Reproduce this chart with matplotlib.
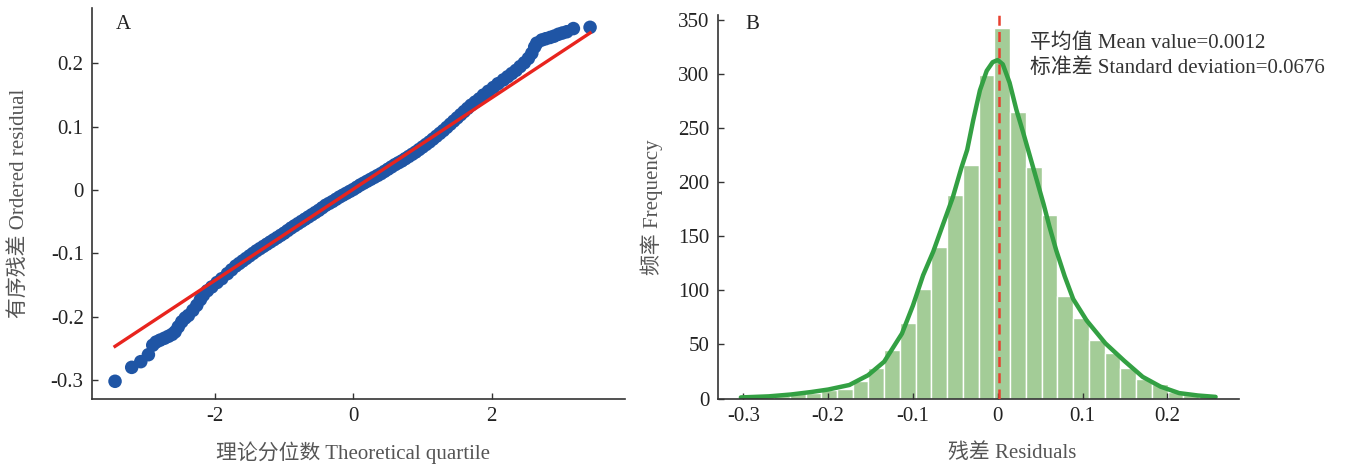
import numpy as np
import matplotlib
matplotlib.use("Agg")
import matplotlib.pyplot as plt
from matplotlib.ticker import FuncFormatter

plt.rcParams['font.family'] = ['Liberation Serif', 'Noto Sans CJK SC']
plt.rcParams['axes.unicode_minus'] = False

# Q-Q 图数据: 理论分位数 / 有序残差
qq_theoretical = [
    -3.444, -3.203, -3.072, -2.962, -2.899, -2.850, -2.793, -2.730, -2.673, -2.620,
    -2.577, -2.530, -2.480, -2.430, -2.384, -2.320, -2.263, -2.210, -2.168, -2.110,
    -2.046, -1.970, -1.902, -1.820, -1.760,
    -1.70, -1.65, -1.60, -1.55, -1.50, -1.45, -1.40, -1.35, -1.30, -1.25,
    -1.20, -1.15, -1.10, -1.05, -1.00, -0.95, -0.90, -0.85, -0.80, -0.75,
    -0.70, -0.65, -0.60, -0.55, -0.50, -0.45, -0.40, -0.35, -0.30, -0.25,
    -0.20, -0.15, -0.10, -0.05, 0.00, 0.05, 0.10, 0.15, 0.20, 0.25,
    0.30, 0.35, 0.40, 0.45, 0.50, 0.55, 0.60, 0.65, 0.70, 0.75,
    0.80, 0.85, 0.90, 0.95, 1.00, 1.05, 1.10, 1.15, 1.20, 1.25,
    1.30, 1.35, 1.40, 1.45, 1.50, 1.55, 1.60, 1.65, 1.70,
    1.760, 1.820, 1.879, 1.950, 2.023, 2.090, 2.168, 2.230, 2.289, 2.350,
    2.409, 2.470, 2.529, 2.578, 2.620, 2.650, 2.723, 2.780, 2.843, 2.900,
    2.962, 3.020, 3.084, 3.179, 3.420,
]
qq_ordered = [
    -0.302, -0.280, -0.271, -0.260, -0.245, -0.240, -0.237, -0.234, -0.231, -0.228,
    -0.224, -0.216, -0.208, -0.202, -0.198, -0.190, -0.182, -0.173, -0.166, -0.159,
    -0.153, -0.146, -0.140, -0.132, -0.126,
    -0.120, -0.116, -0.112, -0.108, -0.104, -0.100, -0.096, -0.0925, -0.089, -0.0855,
    -0.082, -0.0785, -0.075, -0.0715, -0.068, -0.064, -0.060, -0.0565, -0.053, -0.0495,
    -0.046, -0.0425, -0.039, -0.0355, -0.032, -0.028, -0.024, -0.021, -0.018, -0.0145,
    -0.011, -0.008, -0.005, -0.002, 0.001, 0.0045, 0.008, 0.011, 0.014, 0.017,
    0.020, 0.023, 0.026, 0.0295, 0.033, 0.0365, 0.040, 0.043, 0.046, 0.0495,
    0.053, 0.0565, 0.060, 0.064, 0.068, 0.072, 0.076, 0.0805, 0.085, 0.0895,
    0.094, 0.099, 0.104, 0.109, 0.114, 0.119, 0.124, 0.129, 0.134,
    0.139, 0.144, 0.150, 0.156, 0.162, 0.168, 0.174, 0.179, 0.184, 0.189,
    0.195, 0.201, 0.208, 0.216, 0.226, 0.232, 0.237, 0.239, 0.241, 0.243,
    0.246, 0.248, 0.250, 0.255, 0.257,
]
# 拟合直线端点
fit_x = [-3.444, 3.420]
fit_y = [-0.2468, 0.2481]

# 残差直方图 (30 个分箱)
hist_start = -0.301
bin_width = 0.01857
hist_counts = [1, 1, 2, 5, 5, 8, 9, 16, 28, 45,
               70, 101, 140, 188, 216, 299, 343, 265, 214, 170,
               95, 74, 54, 42, 28, 18, 13, 6, 3, 2]

# 核密度曲线 (按频数缩放)
kde_x = [-0.303, -0.270, -0.244, -0.220, -0.200, -0.175, -0.153, -0.134, -0.113, -0.100,
         -0.088, -0.076, -0.065, -0.053, -0.043, -0.036, -0.029, -0.021, -0.013, -0.006,
         0.000, 0.006, 0.014, 0.022, 0.030, 0.038, 0.046, 0.054, 0.061, 0.069,
         0.079, 0.089, 0.105, 0.127, 0.149, 0.171, 0.192, 0.214, 0.236, 0.257]
kde_y = [1, 2, 3.7, 6, 8.3, 12.5, 21.5, 34, 60, 86,
         114, 136, 160, 186, 213, 230, 257, 285, 303, 311,
         313, 309, 292, 267, 246, 224, 202, 180, 159, 137,
         113, 92, 72, 51, 35, 20, 11, 5, 2.8, 1.5]

mean_value = 0.0012
std_value = 0.0676

fmt = FuncFormatter(lambda v, pos: '%g' % round(v, 4))


def style_axes(ax):
    for side in ['top', 'right']:
        ax.spines[side].set_visible(False)
    for side in ['left', 'bottom']:
        ax.spines[side].set_linewidth(1.2)
        ax.spines[side].set_color('#333333')
    ax.tick_params(direction='in', length=4, width=1, color='#333333',
                   labelsize=15, labelcolor='#222222', pad=6)


def draw_qq(ax):
    ax.scatter(qq_theoretical, qq_ordered, s=95, c='#1f55a5', edgecolors='none', zorder=2)
    ax.plot(fit_x, fit_y, color='#e8241e', lw=2.4, zorder=3)
    ax.set_xlim(-3.776, 3.926)
    ax.set_ylim(-0.330, 0.2875)
    ax.set_xticks([-2, 0, 2])
    ax.set_yticks([-0.3, -0.2, -0.1, 0, 0.1, 0.2])
    ax.xaxis.set_major_formatter(fmt)
    ax.yaxis.set_major_formatter(fmt)
    style_axes(ax)
    ax.set_xlabel('理论分位数 Theoretical quartile', fontsize=15, color='#555555')
    ax.set_ylabel('有序残差 Ordered residual', fontsize=15, color='#555555')
    ax.xaxis.set_label_coords(0.49, -0.108)
    ax.yaxis.set_label_coords(-0.118, 0.5)
    ax.text(0.045, 0.957, 'A', transform=ax.transAxes, fontsize=15,
            color='#222222', va='center', ha='left')


def draw_hist(ax):
    edges = hist_start + bin_width * np.arange(len(hist_counts))
    ax.bar(edges, hist_counts, width=bin_width, align='edge',
           color='#a3cc97', edgecolor='white', linewidth=1.0, zorder=1)
    ax.plot(kde_x, kde_y, color='#33a043', lw=3.2, solid_capstyle='round',
            solid_joinstyle='round', zorder=2)
    ax.axvline(mean_value, color='#e8402f', lw=1.8, dashes=(4, 2.5), zorder=3)
    ax.set_xlim(-0.330, 0.2845)
    ax.set_ylim(0, 354.6)
    ax.set_xticks([-0.3, -0.2, -0.1, 0, 0.1, 0.2])
    ax.set_yticks([0, 50, 100, 150, 200, 250, 300, 350])
    ax.xaxis.set_major_formatter(fmt)
    style_axes(ax)
    ax.set_xlabel('残差 Residuals', fontsize=15, color='#555555')
    ax.set_ylabel('频率 Frequency', fontsize=15, color='#555555')
    ax.xaxis.set_label_coords(0.564, -0.116)
    ax.yaxis.set_label_coords(-0.106, 0.5)
    ax.text(0.052, 0.974, 'B', transform=ax.transAxes, fontsize=15,
            color='#222222', va='center', ha='left')
    ax.text(0.599, 0.927, '平均值 Mean value=%.4f' % mean_value, transform=ax.transAxes,
            fontsize=15, color='#333333', va='center', ha='left')
    ax.text(0.599, 0.862, '标准差 Standard deviation=%.4f' % std_value, transform=ax.transAxes,
            fontsize=15, color='#333333', va='center', ha='left')


def main():
    fig = plt.figure(figsize=(13.72, 4.68), dpi=100)
    ax_a = fig.add_axes([0.0671, 0.1474, 0.3885, 0.8355])
    ax_b = fig.add_axes([0.5233, 0.1485, 0.3797, 0.8194])
    draw_qq(ax_a)
    draw_hist(ax_b)
    fig.savefig('out.png', dpi=100)


if __name__ == '__main__':
    main()
